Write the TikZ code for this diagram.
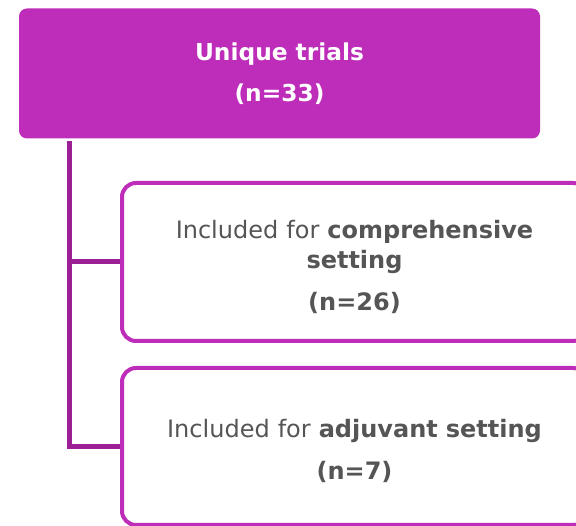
\documentclass[tikz,border=0pt]{standalone}
\usepackage{fontspec}
\setmainfont{DejaVu Sans}
\usepackage{xcolor}
\usetikzlibrary{shapes}
\definecolor{magentabox}{HTML}{BE2CBA}
\definecolor{linkpurple}{HTML}{9C1F95}
\definecolor{textgray}{HTML}{555555}
\newcommand{\topgap}{\rule{0pt}{28pt}}

\begin{document}
\begin{tikzpicture}[x=1pt, y=-1pt]
		\useasboundingbox (0,0) rectangle (576,526);
		\tikzstyle{headbox} = [rectangle, rounded corners=8pt, fill=magentabox, text=white,
			font=\fontsize{23.3}{41}\selectfont\bfseries, align=center,
			minimum width=521pt, minimum height=130pt, inner sep=0pt]
		\tikzstyle{subbox} = [rectangle, rounded corners=14pt, draw=magentabox, line width=4pt,
			fill=white, text=textgray, font=\fontsize{24}{30}\selectfont, align=center,
			minimum width=465pt, text width=450pt, inner sep=0pt]
		\tikzstyle{link} = [draw=linkpurple, line width=5pt]

		\node[headbox] (trials) at (279.5,73.5) {Unique trials\\(n=33)};
		\node[subbox, minimum height=158pt] (comp) at (354.5,262)
			{\topgap Included for \textbf{comprehensive}\\\textbf{setting}\\[12pt]\textbf{(n=26)}};
		\node[subbox, minimum height=157pt] (adj) at (354.5,446.5)
			{\topgap Included for \textbf{adjuvant setting}\\[12pt]\textbf{(n=7)}};

		\coordinate (trunk) at (69,141);
		\draw[link] (trunk) |- (comp.west);
		\draw[link] (trunk) |- (adj.west);
\end{tikzpicture}
\end{document}
